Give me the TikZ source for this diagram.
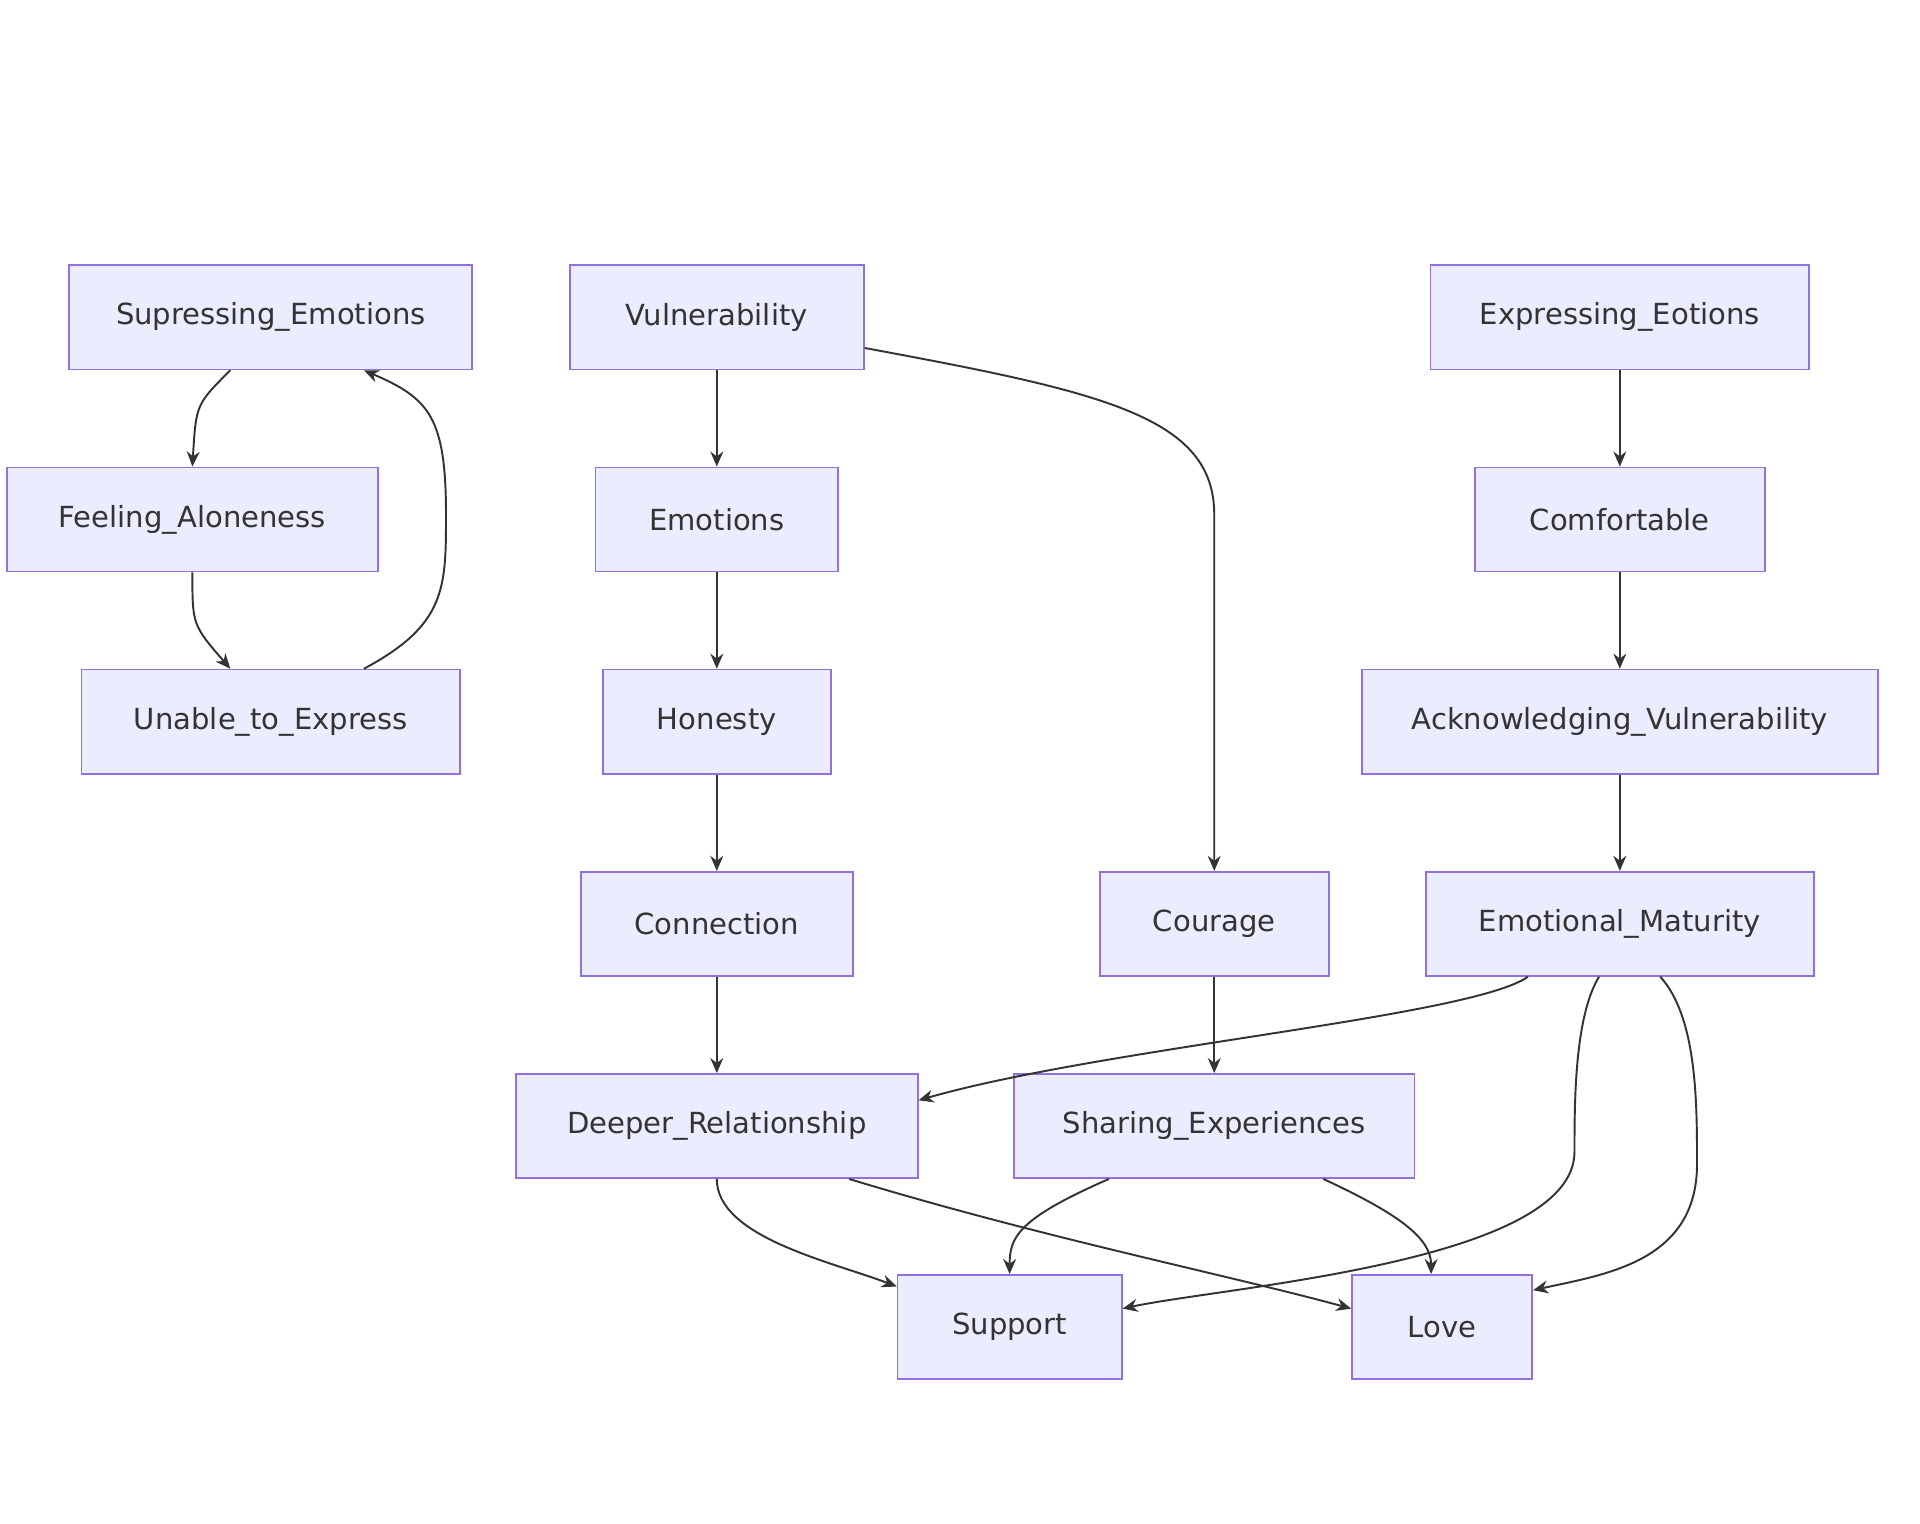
\documentclass[tikz,border=0pt]{standalone}
\usepackage{fontspec}
\setmainfont{DejaVu Sans}
\usetikzlibrary{calc,arrows.meta}
\definecolor{boxfill}{HTML}{ECECFF}
\definecolor{boxline}{HTML}{9370DB}
\definecolor{edge}{HTML}{333333}
\tikzset{
  box/.style={draw=boxline, fill=boxfill, line width=0.8pt, minimum height=1.7cm, font=\fontsize{13.5}{15}\selectfont, text=edge},
  link/.style={draw=edge, line width=0.9pt, -{Stealth[length=7pt,width=6pt]}}
}
\begin{document}
\begin{tikzpicture}[x=0.02cm,y=-0.02cm]
\useasboundingbox (0,0) rectangle (1567,1243);
\node[box, minimum width=6.58cm] (Sup) at (221,259) {Supressing\_Emotions};
\node[box, minimum width=6.06cm] (Alone) at (157,424) {Feeling\_Aloneness};
\node[box, minimum width=6.18cm] (Unable) at (221,589) {Unable\_to\_Express};
\node[box, minimum width=4.8cm] (Vul) at (585,259) {Vulnerability};
\node[box, minimum width=3.96cm] (Emo) at (585,424) {Emotions};
\node[box, minimum width=3.72cm] (Hon) at (585,589) {Honesty};
\node[box, minimum width=4.44cm] (Conn) at (585,754) {Connection};
\node[box, minimum width=6.56cm] (Deep) at (585,919) {Deeper\_Relationship};
\node[box, minimum width=3.74cm] (Cour) at (991,754) {Courage};
\node[box, minimum width=6.54cm] (Share) at (991,919) {Sharing\_Experiences};
\node[box, minimum width=6.18cm] (Expr) at (1322,259) {Expressing\_Eotions};
\node[box, minimum width=4.74cm] (Comf) at (1322,424) {Comfortable};
\node[box, minimum width=8.42cm] (Ack) at (1322,589) {Acknowledging\_Vulnerability};
\node[box, minimum width=6.34cm] (Mat) at (1322,754) {Emotional\_Maturity};
\node[box, minimum width=3.66cm] (Supp) at (824,1083) {Support};
\node[box, minimum width=2.94cm] (Love) at (1177,1083) {Love};

% left cycle
\draw[link] ($(Sup.south)+(-33,0)$) .. controls (160,330) .. (Alone.north);
\draw[link] (Alone.south) .. controls (157,510) .. ($(Unable.north)+(-33,0)$);
\draw[link] ($(Unable.north)+(76,0)$) .. controls (364,510) and (364,480) .. (364,420)
  .. controls (364,340) and (350,325) .. ($(Sup.south)+(76,0)$);

% middle column
\draw[link] (Vul) -- (Emo);
\draw[link] (Emo) -- (Hon);
\draw[link] (Hon) -- (Conn);
\draw[link] (Conn) -- (Deep);
\draw[link] ($(Vul.east)+(0,25)$) .. controls (900,320) and (991,340) .. (991,420) -- (Cour.north);
\draw[link] (Cour) -- (Share);

% right column
\draw[link] (Expr) -- (Comf);
\draw[link] (Comf) -- (Ack);
\draw[link] (Ack) -- (Mat);
\draw[link] ($(Mat.south)+(-75,0)$) .. controls (1200,830) and (900,855) .. ($(Deep.east)+(0,-21)$);
\draw[link] ($(Mat.south)+(-17,0)$) .. controls (1285,830) and (1285,900) .. (1285,940)
  .. controls (1285,1030) and (1000,1050) .. ($(Supp.east)+(0,-15)$);
\draw[link] ($(Mat.south)+(33,0)$) .. controls (1385,830) and (1385,900) .. (1385,950)
  .. controls (1385,1030) and (1310,1040) .. ($(Love.east)+(0,-30)$);

% bottom
\draw[link] (Deep.south) .. controls (585,1010) and (680,1030) .. ($(Supp.west)+(0,-33)$);
\draw[link] ($(Deep.south)+(108,0)$) .. controls (850,1010) and (1000,1040) .. ($(Love.west)+(0,-15)$);
\draw[link] ($(Share.south)+(-86,0)$) .. controls (830,995) and (824,1010) .. (Supp.north);
\draw[link] ($(Share.south)+(89,0)$) .. controls (1140,990) and (1168,1010) .. ($(Love.north)+(-9,0)$);
\end{tikzpicture}
\end{document}
